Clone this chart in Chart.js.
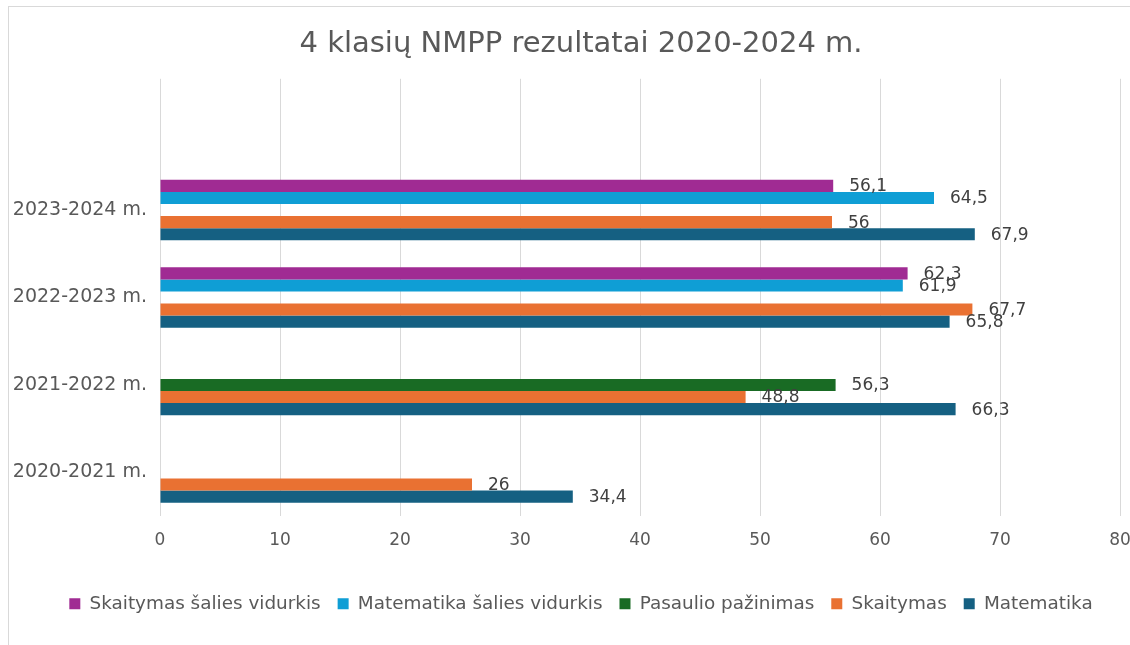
<!DOCTYPE html>
<html>
<head>
  <meta charset="UTF-8">
  <title>4 klasių NMPP rezultatai</title>
  <script src="https://cdn.jsdelivr.net/npm/chart.js@4.4.1/dist/chart.umd.min.js"></script>
  <style>
    html, body { margin: 0; padding: 0; overflow: hidden; background: #fff; }
    #frame { position: absolute; left: 8px; top: 6px; width: 1144px; height: 660px;
             border: 1px solid #d9d9d9; box-sizing: content-box; }
    #chart { display: block; }
  </style>
</head>
<body>
  <div id="frame"><canvas id="chart" width="1144" height="638"></canvas></div>

  <script>
    // metai, is virsaus i apacia (virsuje tuscia eilute kaip originale)
    const metai = ["", "2023-2024 m.", "2022-2023 m.", "2021-2022 m.", "2020-2021 m."];

    const skaitymasSalies  = [null, 56.1, 62.3, null, null];
    const matematikaSalies = [null, 64.5, 61.9, null, null];
    const pasaulioPazin    = [null, null, null, 56.3, null];
    const skaitymas        = [null, 56, 67.7, 48.8, 26];
    const matematika       = [null, 67.9, 65.8, 66.3, 34.4];

    const xTicks = [0, 10, 20, 30, 40, 50, 60, 70, 80];

    const tekstas = "#595959";
    const sriftas = "'DejaVu Sans', sans-serif";

    // reiksmes prie stulpeliu (kaip Excel duomenu etiketes)
    const reiksmes = {
      id: "reiksmes",
      afterDatasetsDraw(chart) {
        const ctx = chart.ctx;
        ctx.save();
        ctx.font = "17px " + sriftas;
        ctx.fillStyle = "#404040";
        ctx.textBaseline = "middle";
        ctx.textAlign = "left";
        chart.data.datasets.forEach((ds, i) => {
          const meta = chart.getDatasetMeta(i);
          meta.data.forEach((bar, j) => {
            const v = ds.data[j];
            if (v === null) return;
            ctx.fillText(String(v).replace(".", ","), bar.x + 16, bar.y + 1);
          });
        });
        ctx.restore();
      }
    };

    new Chart(document.getElementById("chart"), {
      type: "bar",
      data: {
        labels: metai,
        datasets: [
          { label: "Skaitymas šalies vidurkis", data: skaitymasSalies, backgroundColor: "#A02B93" },
          { label: "Matematika šalies vidurkis", data: matematikaSalies, backgroundColor: "#0F9ED5" },
          { label: "Pasaulio pažinimas", data: pasaulioPazin, backgroundColor: "#196B24" },
          { label: "Skaitymas", data: skaitymas, backgroundColor: "#E97132" },
          { label: "Matematika", data: matematika, backgroundColor: "#156082" }
        ]
      },
      options: {
        indexAxis: "y",
        responsive: false,
        animation: false,
        categoryPercentage: 0.69,
        barPercentage: 1.0,
        layout: { padding: { left: 0, right: 0, top: 0, bottom: 22 } },
        plugins: {
          title: {
            display: true,
            text: "4 klasių NMPP rezultatai 2020-2024 m.",
            color: tekstas,
            font: { family: sriftas, size: 29, weight: "normal" },
            padding: { top: 20, bottom: 17 }
          },
          legend: {
            position: "bottom",
            labels: {
              color: tekstas,
              font: { family: sriftas, size: 18.4 },
              boxWidth: 11,
              boxHeight: 11,
              padding: 17
            }
          },
          tooltip: { enabled: false }
        },
        scales: {
          x: {
            min: 0,
            max: 80,
            afterBuildTicks(scale) { scale.ticks = xTicks.map(v => ({ value: v })); },
            afterFit(scale) { scale.height += 13; scale.paddingRight = 33; },
            grid: { color: "#d9d9d9", drawTicks: false },
            border: { display: false },
            ticks: { color: tekstas, font: { family: sriftas, size: 17 }, padding: 14 }
          },
          y: {
            grid: { display: false, drawTicks: false },
            border: { display: false },
            afterFit(scale) { scale.width = 151; },
            ticks: { color: tekstas, font: { family: sriftas, size: 19 }, padding: 13 }
          }
        }
      },
      plugins: [reiksmes]
    });
  </script>
</body>
</html>
